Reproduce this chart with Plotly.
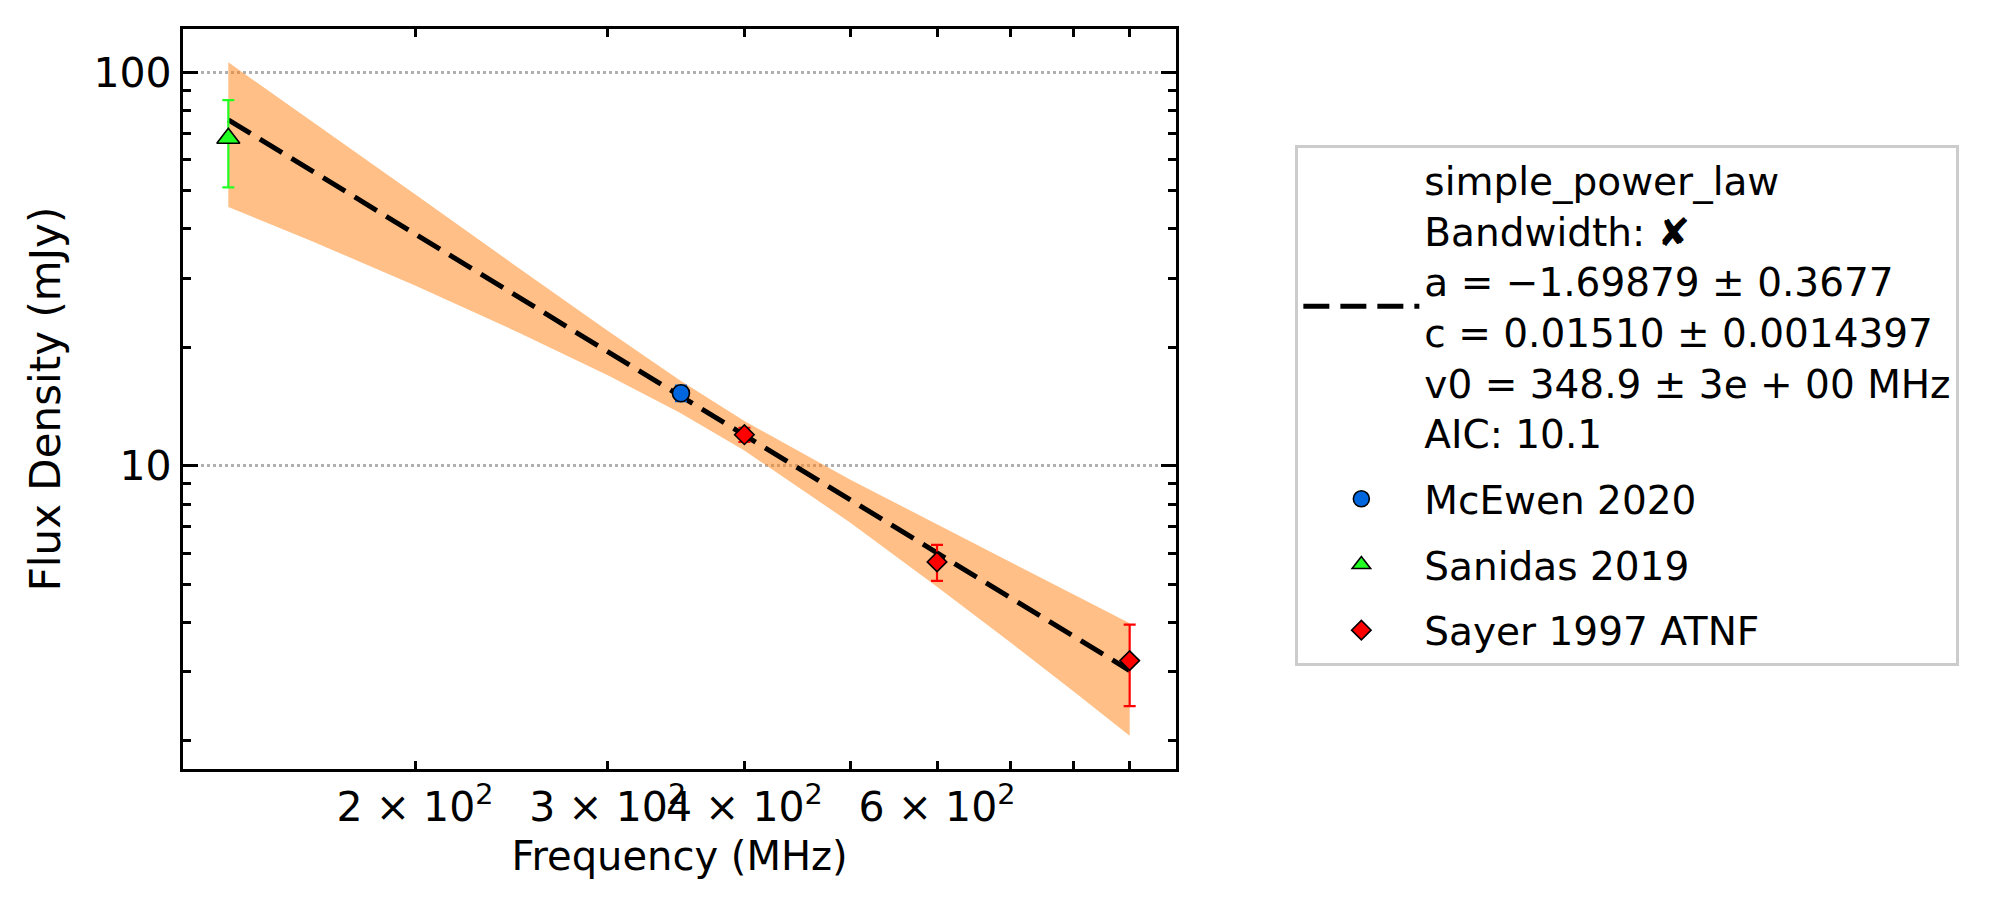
import plotly.graph_objects as go

# ---- data ----
fit_freq = [135, 160, 200, 250, 300, 348.9, 400, 500, 600, 700, 800, 900]
fit_flux = [75.77, 56.78, 38.86, 26.60, 19.52, 15.10, 11.97, 8.195, 6.013, 4.627, 3.688, 3.019]
band_low = [45.47, 37.52, 28.73, 21.68, 16.99, 13.66, 10.94, 7.17, 4.93, 3.56, 2.67, 2.06]
band_high = [106.07, 76.04, 48.99, 31.52, 22.05, 16.54, 13.00, 9.22, 7.09, 5.70, 4.71, 3.98]

mcewen_freq = [350]
mcewen_flux = [15.3]
mcewen_err = [0.7]

sanidas_freq = [135]
sanidas_flux = [68.0]
sanidas_err = [17.0]

sayer_freq = [400, 600, 900]
sayer_flux = [12.0, 5.7, 3.2]
sayer_err = [0.5, 0.6, 0.75]

fit_label = ("simple_power_law<br>Bandwidth: \u2718<br>"
             "a = \u22121.69879 \u00b1 0.3677<br>"
             "c = 0.01510 \u00b1 0.0014397<br>"
             "v0 = 348.9 \u00b1 3e + 00 MHz<br>"
             "AIC: 10.1")

x_tickvals = [200, 300, 400, 600]
x_ticktext = ["2 \u00d7 10<sup>2</sup>", "3 \u00d7 10<sup>2</sup>", "4 \u00d7 10<sup>2</sup>",
              "6 \u00d7 10<sup>2</sup>"]
x_minor = [500, 700, 800, 900]
y_tickvals = [10, 100]
y_ticktext = ["10", "100"]
y_minor = [2, 3, 4, 5, 6, 7, 8, 9, 20, 30, 40, 50, 60, 70, 80, 90]

FONT = "DejaVu Sans"
band_color = "rgba(255,127,14,0.5)"

fig = go.Figure()

fig.add_trace(go.Scatter(x=fit_freq, y=band_low, mode="lines", line=dict(width=0),
                         showlegend=False, hoverinfo="skip", legendgroup="band"))
fig.add_trace(go.Scatter(x=fit_freq, y=band_high, mode="lines", line=dict(width=0),
                         fill="tonexty", fillcolor=band_color,
                         showlegend=False, hoverinfo="skip", legendgroup="band"))
fig.add_trace(go.Scatter(x=fit_freq, y=fit_flux, mode="lines", name=fit_label,
                         legendgroup="fit",
                         line=dict(color="black", width=5, dash="26px,11px")))

def data_trace(xs, ys, es, name, color, symbol, size):
    return go.Scatter(
        x=xs, y=ys, mode="markers", name=name, legendgroup=name,
        marker=dict(color=color, symbol=symbol, size=size,
                    line=dict(color="black", width=1.6)),
        error_y=dict(type="data", array=es, visible=True, color=color,
                     thickness=2.2, width=6),
    )

fig.add_trace(data_trace(mcewen_freq, mcewen_flux, mcewen_err, "McEwen 2020", "#0066dd", "circle", 17))
fig.add_trace(data_trace(sanidas_freq, sanidas_flux, sanidas_err, "Sanidas 2019", "#22ff22", "triangle-up", 20))
fig.add_trace(data_trace(sayer_freq, sayer_flux, sayer_err, "Sayer 1997 ATNF", "#ff0000", "diamond", 15))

fig.update_layout(
    width=2016, height=914, autosize=False,
    margin=dict(l=183, r=840, t=29, b=145, pad=0),
    paper_bgcolor="white", plot_bgcolor="white",
    font=dict(family=FONT, size=41, color="black"),
    legend=dict(
        x=1.1202, y=0.8436, xanchor="left", yanchor="top",
        bgcolor="white", bordercolor="#cccccc", borderwidth=3,
        font=dict(family=FONT, size=39, color="black"),
        itemwidth=116, tracegroupgap=12, valign="middle",
        traceorder="grouped",
    ),
)

fig.update_xaxes(
    type="log", range=[2.0889, 2.9966],
    tickmode="array", tickvals=x_tickvals, ticktext=x_ticktext, tickangle=0,
    ticks="inside", ticklen=8, tickwidth=2.5, tickcolor="black",
    minor=dict(tickmode="array", tickvals=x_minor, ticks="inside", ticklen=8,
               tickwidth=2.5, tickcolor="black", showgrid=False),
    showline=True, linecolor="black", linewidth=3.3, mirror="ticks",
    showgrid=False, zeroline=False,
    tickfont=dict(family=FONT, size=41, color="black"),
    title=dict(text="Frequency (MHz)", font=dict(family=FONT, size=40, color="black"), standoff=12),
)
fig.update_yaxes(
    type="log", range=[0.2296, 2.1103],
    tickmode="array", tickvals=y_tickvals, ticktext=y_ticktext,
    ticks="inside", ticklen=15, tickwidth=3.3, tickcolor="black",
    showline=True, linecolor="black", linewidth=3.3, mirror="ticks",
    showgrid=True, gridcolor="#b0b0b0", gridwidth=2.5, griddash="dot", zeroline=False,
    minor=dict(tickmode="array", tickvals=y_minor, ticks="inside", ticklen=8,
               tickwidth=2.5, tickcolor="black", showgrid=False),
    tickfont=dict(family=FONT, size=41, color="black"),
    title=dict(text="Flux Density (mJy)", font=dict(family=FONT, size=42, color="black"), standoff=20),
)

fig.write_html("out.html")
